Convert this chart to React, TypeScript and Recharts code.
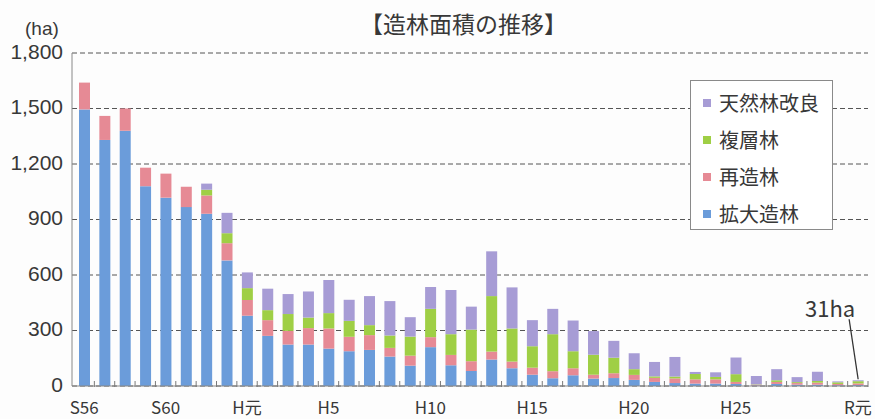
import { Bar, BarChart, CartesianGrid, LabelList, XAxis, YAxis } from "recharts";

// 年度（S=昭和, H=平成, R=令和）
const years = [
  "S56", "S57", "S58", "S59", "S60", "S61", "S62", "S63",
  "H元", "H2", "H3", "H4", "H5", "H6", "H7", "H8", "H9", "H10",
  "H11", "H12", "H13", "H14", "H15", "H16", "H17", "H18", "H19", "H20",
  "H21", "H22", "H23", "H24", "H25", "H26", "H27", "H28", "H29", "H30",
  "R元",
];

// ha
const expansion = [
  1495, 1330, 1380, 1080, 1018, 967, 931, 679,
  380, 271, 224, 224, 202, 188, 195, 159, 110, 210,
  112, 81, 143, 96, 61, 42, 58, 40, 43, 33,
  22, 16, 13, 13, 11, 3, 11, 7, 7, 4,
  5,
];
const replanting = [
  145, 130, 120, 100, 130, 110, 99, 93,
  85, 85, 74, 89, 109, 78, 80, 47, 54, 54,
  56, 53, 43, 36, 38, 38, 38, 21, 26, 27,
  22, 25, 23, 23, 11, 4, 11, 9, 11, 7,
  9,
];
const multiLayer = [
  0, 0, 0, 0, 0, 0, 31, 54,
  64, 54, 91, 57, 83, 86, 54, 67, 103, 153,
  112, 171, 300, 179, 116, 200, 92, 108, 84, 31,
  8, 10, 29, 13, 42, 2, 9, 5, 9, 9,
  12,
];
const naturalImprove = [
  0, 0, 0, 0, 0, 0, 33, 110,
  85, 116, 108, 141, 179, 114, 157, 186, 105, 118,
  239, 124, 242, 222, 141, 137, 166, 128, 91, 86,
  78, 106, 11, 25, 90, 45, 60, 27, 50, 5,
  5,
];

const yTicks = [0, 300, 600, 900, 1200, 1500, 1800];
const labeledYears = ["S56", "S60", "H元", "H5", "H10", "H15", "H20", "H25", "R元"];

const series = [
  { key: "naturalImprove", name: "天然林改良", color: "#a79cd5" },
  { key: "multiLayer", name: "複層林", color: "#9fcf45" },
  { key: "replanting", name: "再造林", color: "#e68a95" },
  { key: "expansion", name: "拡大造林", color: "#6b9cda" },
];

const data = years.map((year, i) => ({
  year,
  expansion: expansion[i],
  replanting: replanting[i],
  multiLayer: multiLayer[i],
  naturalImprove: naturalImprove[i],
}));

const colorOf = (key: string) => series.find((s) => s.key === key)!.color;
const BAND = 794 / years.length;
const TEXT = "#383838";
const NUM_FONT = "'Liberation Sans', Arial, sans-serif";
const LAST = years.length - 1;

function YTick({ x, y, payload }: any) {
  return (
    <text
      x={x}
      y={y}
      dy={-2}
      textAnchor="end"
      dominantBaseline="central"
      fontSize={21}
      fontFamily={NUM_FONT}
      fill={TEXT}
    >
      {payload.value.toLocaleString("en-US")}
    </text>
  );
}

function XTick({ x, y, payload }: any) {
  return (
    <g>
      <line x1={x + BAND / 2} x2={x + BAND / 2} y1={y - 5} y2={y + 1} stroke="#7a7a7a" />
      {labeledYears.includes(payload.value) && (
        <text x={x} y={y + 20} textAnchor="middle" dominantBaseline="central" fontSize={17} fill={TEXT}>
          {payload.value}
        </text>
      )}
    </g>
  );
}

// callout with the total of the latest year
function LastTotal(props: any) {
  const { x, y, width, value } = props;
  if (value !== years[LAST]) return null;
  const total = expansion[LAST] + replanting[LAST] + multiLayer[LAST] + naturalImprove[LAST];
  const cx = Number(x) + Number(width) / 2;
  const top = Number(y);
  return (
    <g>
      <line x1={cx} y1={top - 1} x2={cx - 9} y2={top - 61} stroke="#333" strokeWidth={1.3} />
      <text x={cx - 28} y={top - 73} textAnchor="middle" dominantBaseline="central" fontSize={22} fill={TEXT}>
        {total}ha
      </text>
    </g>
  );
}

export default function App() {
  return (
    <div
      style={{
        position: "relative",
        width: 875,
        height: 419,
        background: "#fdfdfd",
        fontFamily: "'Noto Sans CJK JP', 'Noto Sans', sans-serif",
        color: TEXT,
      }}
    >
      <style>{"body{margin:0}"}</style>
      <div style={{ position: "absolute", left: 0, width: 927, top: 8, textAlign: "center", fontSize: 23, lineHeight: "30px" }}>
        【造林面積の推移】
      </div>
      <div style={{ position: "absolute", left: 25, top: 18, fontSize: 19, lineHeight: "21px", fontFamily: NUM_FONT }}>
        (ha)
      </div>

      <BarChart width={875} height={419} data={data} margin={{ top: 53, right: 7, bottom: 0, left: 0 }} barSize={11}>
        <CartesianGrid vertical={false} stroke="#555" strokeDasharray="5 3" />
        <XAxis
          dataKey="year"
          interval={0}
          height={33}
          padding={{ left: 2, right: 0 }}
          tickLine={false}
          tickSize={0}
          tickMargin={0}
          axisLine={{ stroke: "#888" }}
          tick={<XTick />}
        />
        <YAxis
          width={72}
          domain={[0, 1800]}
          ticks={yTicks}
          tickLine={false}
          tickSize={0}
          tickMargin={9}
          axisLine={{ stroke: "#888" }}
          tick={<YTick />}
        />
        <Bar dataKey="expansion" stackId="a" fill={colorOf("expansion")} isAnimationActive={false} />
        <Bar dataKey="replanting" stackId="a" fill={colorOf("replanting")} isAnimationActive={false} />
        <Bar dataKey="multiLayer" stackId="a" fill={colorOf("multiLayer")} isAnimationActive={false} />
        <Bar dataKey="naturalImprove" stackId="a" fill={colorOf("naturalImprove")} isAnimationActive={false}>
          <LabelList dataKey="year" content={LastTotal} />
        </Bar>
      </BarChart>

      <div
        style={{
          position: "absolute",
          left: 690,
          top: 80,
          width: 143,
          height: 150,
          boxSizing: "border-box",
          border: "1px solid #8a8a8a",
          background: "#fff",
          paddingTop: 3,
          paddingLeft: 12,
        }}
      >
        {series.map((s) => (
          <div key={s.key} style={{ display: "flex", alignItems: "center", height: 37, fontSize: 20 }}>
            <span style={{ width: 8, height: 8, background: s.color, marginRight: 8, flex: "none" }} />
            {s.name}
          </div>
        ))}
      </div>
    </div>
  );
}
